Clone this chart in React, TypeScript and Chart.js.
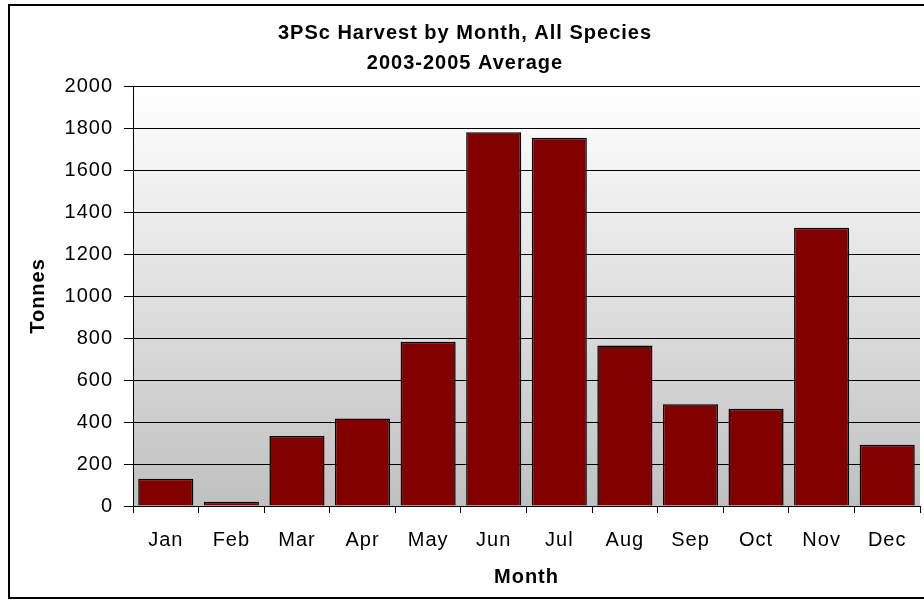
import React, { useEffect, useRef } from "react";
import { Chart, registerables } from "chart.js";

Chart.register(...registerables);

const months = ["Jan", "Feb", "Mar", "Apr", "May", "Jun", "Jul", "Aug", "Sep", "Oct", "Nov", "Dec"];
const tonnes = [130, 20, 333, 417, 782, 1780, 1754, 764, 484, 463, 1325, 292];
const titleLines = ["3PSc Harvest by Month, All Species", "2003-2005 Average"];
const xTitle = "Month";
const yTitle = "Tonnes";

const FONT = "'Liberation Sans', Arial, sans-serif";

const spacingPlugin = {
  id: "spacing",
  beforeUpdate(chart: any) {
    (chart.ctx as any).letterSpacing = "1px";
  },
  beforeDraw(chart: any) {
    (chart.ctx as any).letterSpacing = "1px";
  },
};

const bgPlugin = {
  id: "plotBg",
  beforeDraw(chart: any) {
    const { ctx, chartArea } = chart;
    if (!chartArea) return;
    const g = ctx.createLinearGradient(0, chartArea.top, 0, chartArea.bottom);
    g.addColorStop(0, "#ffffff");
    g.addColorStop(1, "#c0c0c0");
    ctx.save();
    ctx.fillStyle = g;
    ctx.fillRect(chartArea.left, chartArea.top, chartArea.right - chartArea.left, chartArea.bottom - chartArea.top);
    ctx.restore();
  },
};

export default function App() {
  const ref = useRef<HTMLCanvasElement | null>(null);

  useEffect(() => {
    document.body.style.margin = "0";
    const canvas = ref.current!;
    const chart = new Chart(canvas, {
      type: "bar",
      data: {
        labels: months,
        datasets: [
          {
            data: tonnes,
            backgroundColor: "#800000",
            borderColor: "#000000",
            borderWidth: 1.5,
            barPercentage: 0.84,
            categoryPercentage: 1.0,
          },
        ],
      },
      options: {
        responsive: false,
        animation: false,
        devicePixelRatio: 1,
        layout: { padding: { left: 10, right: 4, top: 6, bottom: 2 } },
        plugins: {
          legend: { display: false },
          tooltip: { enabled: false },
          title: {
            display: true,
            text: titleLines,
            color: "#000",
            font: { family: FONT, size: 20, weight: "bold", lineHeight: 1.5 },
            padding: { top: 12, bottom: 8 },
          },
        },
        scales: {
          x: {
            offset: true,
            afterFit: (s: any) => {
              s.height = 92;
            },
            grid: {
              display: true,
              offset: true,
              drawOnChartArea: false,
              drawTicks: true,
              tickLength: 7,
              color: "#000",
              lineWidth: 1,
            },
            border: { display: true, color: "#000", width: 1 },
            ticks: {
              color: "#000",
              font: { family: FONT, size: 20 },
              padding: 15,
              maxRotation: 0,
              autoSkip: false,
            },
            title: {
              display: true,
              text: xTitle,
              color: "#000",
              font: { family: FONT, size: 20, weight: "bold", lineHeight: 1.2 },
              padding: { top: 0, bottom: 9 },
            },
          },
          y: {
            min: 0,
            max: 2000,
            afterFit: (s: any) => {
              s.width = 123;
            },
            grid: {
              display: true,
              drawOnChartArea: true,
              drawTicks: true,
              tickLength: 9,
              color: "#000",
              lineWidth: 1,
            },
            border: { display: true, color: "#000", width: 1 },
            ticks: {
              stepSize: 200,
              color: "#000",
              font: { family: FONT, size: 20 },
              padding: 11,
              callback: (v: any) => String(v),
            },
            title: {
              display: true,
              text: yTitle,
              color: "#000",
              font: { family: FONT, size: 20, weight: "bold", lineHeight: 1.2 },
              padding: { top: 16, bottom: 0 },
            },
          },
        },
      },
      plugins: [spacingPlugin, bgPlugin],
    });
    return () => chart.destroy();
  }, []);

  return (
    <div style={{ position: "relative", width: 924, height: 600, overflow: "hidden", background: "#fff" }}>
      <div
        style={{
          position: "absolute",
          left: 8,
          top: 4,
          width: 940,
          height: 595,
          boxSizing: "border-box",
          border: "2px solid #000",
        }}
      />
      <canvas ref={ref} width={924} height={600} style={{ position: "absolute", left: 0, top: 0, width: 924, height: 600 }} />
    </div>
  );
}
